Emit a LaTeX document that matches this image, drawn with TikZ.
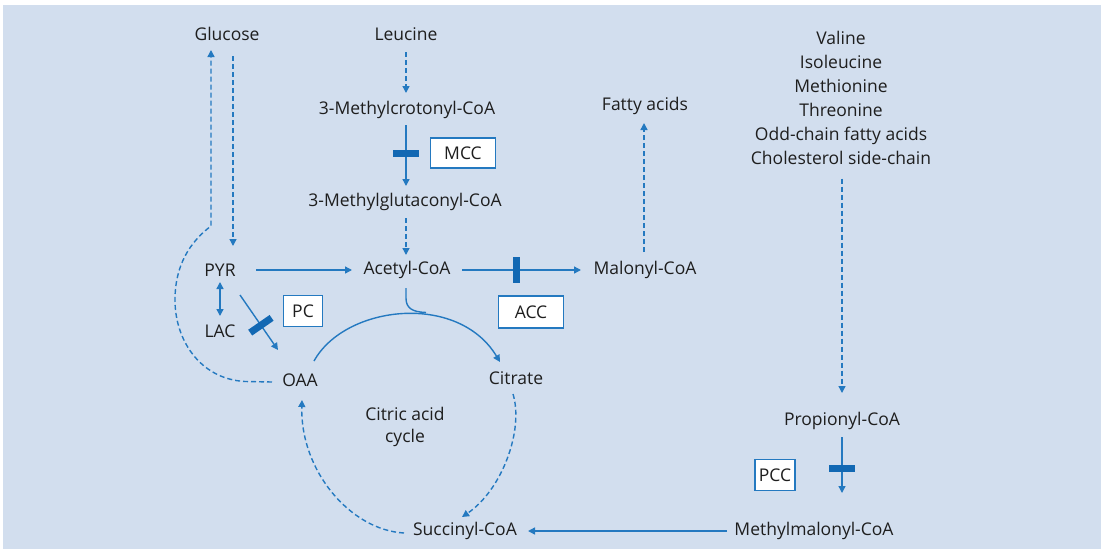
\documentclass[tikz,border=0pt]{standalone}
\usepackage{fontspec}
\setmainfont{Open Sans}
\usetikzlibrary{arrows.meta,calc}
\definecolor{bgc}{HTML}{D2DEEE}
\definecolor{lnc}{HTML}{2479C0}
\definecolor{barc}{HTML}{1268B3}
\definecolor{txc}{HTML}{1E1E1E}
\begin{document}
\begin{tikzpicture}[x=1pt,y=-1pt,
  txt/.style={text=txc, font=\fontsize{17.5}{24}\selectfont, inner sep=0pt, align=center},
  enz/.style={draw=lnc, fill=white, line width=1.3pt, text=txc, font=\fontsize{17.5}{18}\selectfont, inner sep=0pt, minimum height=30pt},
  con/.style={draw=lnc, line width=1.4pt, -{Triangle[length=7pt,width=7pt]}},
  dsh/.style={con, dash pattern=on 5pt off 3pt},
  barnode/.style={sloped, fill=barc, minimum width=7pt, minimum height=26pt, inner sep=0pt, draw=none}
]
\useasboundingbox (0,0) rectangle (1103,549);
\fill[white] (0,0) rectangle (1103,549);
\fill[bgc] (3,5) rectangle (1101,549);

% nodes
\node[txt] (glc) at (227,34) {Glucose};
\node[txt] (leu) at (406,34) {Leucine};
\node[txt] (mcr) at (407,110) {3-Methylcrotonyl-CoA};
\node[txt] (mgl) at (405,202) {3-Methylglutaconyl-CoA};
\node[txt] (pyr) at (220,270) {PYR};
\node[txt] (aca) at (407,270) {Acetyl-CoA};
\node[txt] (mal) at (645,270) {Malonyl-CoA};
\node[txt] (fat) at (645,106) {Fatty acids};
\node[txt] (lac) at (220,331) {LAC};
\node[txt] (oaa) at (300,380) {OAA};
\node[txt] (cit) at (516,378) {Citrate};
\node[txt, font=\fontsize{17.5}{22}\selectfont] (tca) at (405,427) {Citric acid\\cycle};
\node[txt] (suc) at (465,531) {Succinyl-CoA};
\node[txt] (mmc) at (814,531) {Methylmalonyl-CoA};
\node[txt] (prc) at (842,421) {Propionyl-CoA};
\node[txt] (src) at (841,97.5) {Valine\\Isoleucine\\Methionine\\Threonine\\Odd-chain fatty acids\\Cholesterol side-chain};

\node[enz, minimum width=65pt] (mcc) at (463,153) {MCC};
\node[enz, minimum width=65pt, minimum height=32pt] (acc) at (531,312) {ACC};
\node[enz, minimum width=39pt, minimum height=31pt] (pc) at (303,311) {PC};
\node[enz, minimum width=40pt, minimum height=31pt] (pcc) at (775,475) {PCC};

% connectors
\draw[dsh] ($(glc)+(6,22)$) -- ($(pyr)+(13,-24)$);
\draw[dsh] ($(oaa)+(-28,2)$) -- (245,381.5) .. controls (200,379) and (175,340) .. (175,300)
   .. controls (175,265) and (190,242) .. (211,226) -- ($(glc)+(-16,16)$);
\draw[con] ($(pyr)+(36,0)$) -- ($(aca)+(-55,0)$);
\draw[dsh] ($(leu)+(0,18)$) -- ($(mcr)+(-1,-17)$);
\draw[con] ($(mcr)+(-1,15)$) -- node[barnode, pos=0.47] {} ($(mgl)+(1,-16)$);
\draw[dsh] ($(mgl)+(1,16)$) -- ($(aca)+(-1,-15)$);
\draw[con] ($(aca)+(55,0)$) -- node[barnode, pos=0.46] {} ($(mal)+(-64,0)$);
\draw[dsh] ($(mal)+(-1,-18)$) -- ($(fat)+(-1,17)$);
\draw[draw=lnc, line width=1.4pt, {Triangle[length=7pt,width=7pt]}-{Triangle[length=7pt,width=7pt]}] ($(pyr)+(0,12)$) -- ($(lac)+(0,-15)$);
\draw[con] ($(pyr)+(20,25)$) -- node[barnode, pos=0.55] {} ($(oaa)+(-22,-30)$);
\draw[con] ($(oaa)+(14,-19)$) .. controls (345,305) and (458,292) .. ($(cit)+(-16,-16)$);
\draw[draw=lnc, line width=1.4pt] ($(aca)+(-1,18)$) -- (406,298) .. controls (406,308) and (412,312) .. (426,312.5);
\draw[dsh] ($(cit)+(-3,16)$) .. controls (524,430) and (502,490) .. ($(suc)+(-3,-14)$);
\draw[dsh] ($(suc)+(-61,2)$) .. controls (350,530) and (300,470) .. ($(oaa)+(2,20)$);
\draw[con] ($(mmc)+(-87,0)$) -- ($(suc)+(63,0)$);
\draw[dsh] ($(src)+(1,81)$) -- ($(prc)+(0,-28)$);
\draw[con] ($(prc)+(0,16)$) -- node[barnode, pos=0.56] {} ($(mmc)+(28,-38)$);
\end{tikzpicture}
\end{document}
